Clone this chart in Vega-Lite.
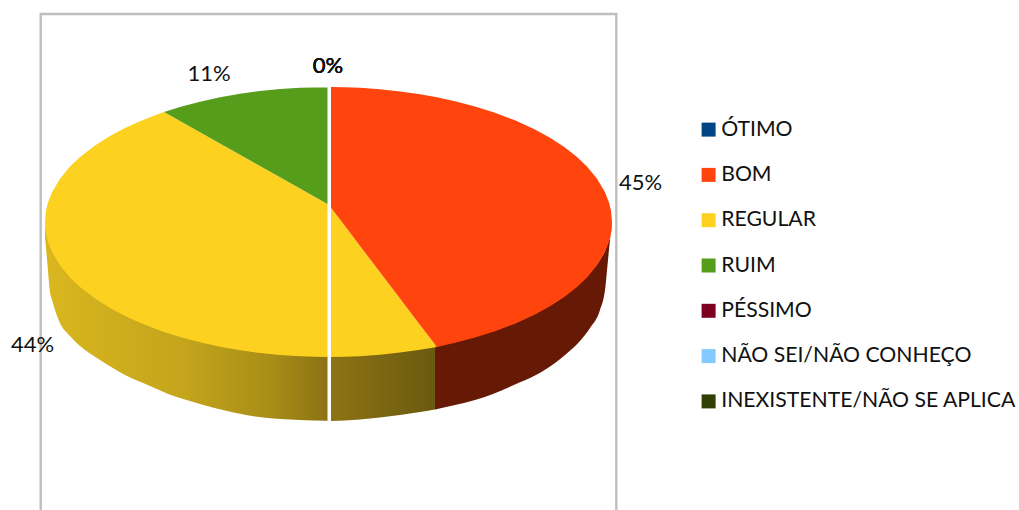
{"$schema":"https://vega.github.io/schema/vega-lite/v6.json","width":1019,"height":510,"padding":0,"autosize":{"type":"none"},"background":"#ffffff","view":{"stroke":null},
"config":{"axis":{"grid":false}},
"datasets":{
"frame":[{"seq":1,"x":40.7,"y":510},{"seq":2,"x":40.7,"y":14},{"seq":3,"x":616.3,"y":14},{"seq":4,"x":616.3,"y":510}],
"sideLeft":[{"x":45,"y":222,"y2":237},{"x":46,"y":232,"y2":248},{"x":47,"y":236,"y2":259},{"x":50,"y":245,"y2":292},{"x":52,"y":250,"y2":300},{"x":55,"y":256,"y2":310},{"x":60,"y":264,"y2":323},{"x":70,"y":276,"y2":336},{"x":80,"y":286,"y2":346},{"x":90,"y":293,"y2":353.5},{"x":100,"y":300,"y2":360},{"x":125,"y":315,"y2":375},{"x":150,"y":326,"y2":386},{"x":167,"y":332,"y2":393.5},{"x":185,"y":337,"y2":399.5},{"x":200,"y":341,"y2":404},{"x":225,"y":346,"y2":410.5},{"x":255,"y":351,"y2":416.5},{"x":280,"y":354,"y2":419},{"x":300,"y":355,"y2":420},{"x":327.5,"y":356,"y2":420.7}],
"sideRight":[{"x":331,"y":356,"y2":421},{"x":345,"y":355.8,"y2":420.5},{"x":360,"y":355.2,"y2":419.5},{"x":380,"y":353.8,"y2":417.5},{"x":400,"y":351.6,"y2":415},{"x":420,"y":348.8,"y2":412},{"x":436,"y":345.5,"y2":409.3}],
"sideRed":[{"x":435,"y":345,"y2":409.5},{"x":455,"y":342,"y2":405},{"x":475,"y":336.5,"y2":400},{"x":493,"y":331,"y2":394},{"x":515,"y":322.7,"y2":384.5},{"x":535,"y":313.5,"y2":375.5},{"x":547,"y":307,"y2":368.5},{"x":565,"y":295.4,"y2":355},{"x":580,"y":283,"y2":341},{"x":590,"y":273,"y2":328},{"x":600,"y":260,"y2":310},{"x":605,"y":251,"y2":290},{"x":608,"y":243,"y2":260},{"x":610,"y":237,"y2":240},{"x":612,"y":222,"y2":226}],
"faces":[
{"categoria":"REGULAR","parte":"a","x":45,"y":222,"y2":222},{"categoria":"REGULAR","parte":"a","x":46,"y":210.7,"y2":233.3},{"categoria":"REGULAR","parte":"a","x":48,"y":202.4,"y2":241.6},{"categoria":"REGULAR","parte":"a","x":52,"y":192.2,"y2":251.8},{"categoria":"REGULAR","parte":"a","x":60,"y":178.7,"y2":265.3},{"categoria":"REGULAR","parte":"a","x":70,"y":166.6,"y2":277.4},{"categoria":"REGULAR","parte":"a","x":80,"y":157,"y2":287},{"categoria":"REGULAR","parte":"a","x":95,"y":145.4,"y2":298.6},{"categoria":"REGULAR","parte":"a","x":110,"y":136,"y2":308},{"categoria":"REGULAR","parte":"a","x":125,"y":128,"y2":316},{"categoria":"REGULAR","parte":"a","x":140,"y":121.2,"y2":322.8},{"categoria":"REGULAR","parte":"a","x":152,"y":116.4,"y2":327.6},{"categoria":"REGULAR","parte":"a","x":164,"y":112,"y2":332},{"categoria":"REGULAR","parte":"a","x":180,"y":121,"y2":337},{"categoria":"REGULAR","parte":"a","x":200,"y":132.3,"y2":342.3},{"categoria":"REGULAR","parte":"a","x":220,"y":143.5,"y2":346.7},{"categoria":"REGULAR","parte":"a","x":240,"y":154.8,"y2":350.3},{"categoria":"REGULAR","parte":"a","x":260,"y":166,"y2":353},{"categoria":"REGULAR","parte":"a","x":280,"y":177.3,"y2":355},{"categoria":"REGULAR","parte":"a","x":300,"y":188.5,"y2":356.3},{"categoria":"REGULAR","parte":"a","x":315,"y":197,"y2":356.8},{"categoria":"REGULAR","parte":"a","x":327.5,"y":204,"y2":357},
{"categoria":"RUIM","parte":"b","x":164,"y":112,"y2":112},{"categoria":"RUIM","parte":"b","x":180,"y":107,"y2":121},{"categoria":"RUIM","parte":"b","x":200,"y":101.7,"y2":132.3},{"categoria":"RUIM","parte":"b","x":220,"y":97.3,"y2":143.5},{"categoria":"RUIM","parte":"b","x":240,"y":93.7,"y2":154.8},{"categoria":"RUIM","parte":"b","x":260,"y":91,"y2":166},{"categoria":"RUIM","parte":"b","x":280,"y":89,"y2":177.3},{"categoria":"RUIM","parte":"b","x":300,"y":87.7,"y2":188.5},{"categoria":"RUIM","parte":"b","x":315,"y":87.4,"y2":197},{"categoria":"RUIM","parte":"b","x":327.5,"y":87.5,"y2":204},
{"categoria":"REGULAR","parte":"c","x":331,"y":207.7,"y2":357},{"categoria":"REGULAR","parte":"c","x":345,"y":226.1,"y2":356.8},{"categoria":"REGULAR","parte":"c","x":360,"y":245.9,"y2":356.2},{"categoria":"REGULAR","parte":"c","x":380,"y":272.2,"y2":354.8},{"categoria":"REGULAR","parte":"c","x":400,"y":298.6,"y2":352.6},{"categoria":"REGULAR","parte":"c","x":420,"y":324.9,"y2":349.8},{"categoria":"REGULAR","parte":"c","x":437,"y":347,"y2":347},
{"categoria":"BOM","parte":"d","x":331,"y":87,"y2":207.7},{"categoria":"BOM","parte":"d","x":345,"y":87.2,"y2":226.1},{"categoria":"BOM","parte":"d","x":360,"y":87.8,"y2":245.9},{"categoria":"BOM","parte":"d","x":380,"y":89.2,"y2":272.2},{"categoria":"BOM","parte":"d","x":400,"y":91.4,"y2":298.6},{"categoria":"BOM","parte":"d","x":420,"y":94.2,"y2":324.9},{"categoria":"BOM","parte":"d","x":437,"y":97.3,"y2":347},{"categoria":"BOM","parte":"d","x":455,"y":101.2,"y2":342.8},{"categoria":"BOM","parte":"d","x":475,"y":106.4,"y2":337.6},{"categoria":"BOM","parte":"d","x":495,"y":112.7,"y2":331.3},{"categoria":"BOM","parte":"d","x":515,"y":120.3,"y2":323.7},{"categoria":"BOM","parte":"d","x":535,"y":129.5,"y2":314.5},{"categoria":"BOM","parte":"d","x":550,"y":137.7,"y2":306.3},{"categoria":"BOM","parte":"d","x":565,"y":147.6,"y2":296.4},{"categoria":"BOM","parte":"d","x":577,"y":157,"y2":287},{"categoria":"BOM","parte":"d","x":587,"y":166.6,"y2":277.4},{"categoria":"BOM","parte":"d","x":597,"y":178.7,"y2":265.3},{"categoria":"BOM","parte":"d","x":605,"y":192.2,"y2":251.8},{"categoria":"BOM","parte":"d","x":609,"y":202.4,"y2":241.6},{"categoria":"BOM","parte":"d","x":611,"y":210.7,"y2":233.3},{"categoria":"BOM","parte":"d","x":612,"y":222,"y2":222}],
"labels":[{"categoria":"ÓTIMO","rotulo":"0%","x":328,"y":66},{"categoria":"BOM","rotulo":"45%","x":640.5,"y":183},{"categoria":"REGULAR","rotulo":"44%","x":32.5,"y":345},{"categoria":"RUIM","rotulo":"11%","x":209,"y":74},{"categoria":"PÉSSIMO","rotulo":"0%","x":328,"y":66},{"categoria":"NÃO SEI/NÃO CONHEÇO","rotulo":"0%","x":328,"y":66},{"categoria":"INEXISTENTE/NÃO SE APLICA","rotulo":"0%","x":328,"y":66}]
},
"encoding":{
"x":{"field":"x","type":"quantitative","scale":{"domain":[0,1019],"nice":false,"zero":false},"axis":null},
"y":{"field":"y","type":"quantitative","scale":{"domain":[0,510],"nice":false,"zero":false,"reverse":true},"axis":null}
},
"layer":[
{"data":{"name":"frame"},"mark":{"type":"line","color":"#bfbfbf","strokeWidth":2.4},"encoding":{"order":{"field":"seq","type":"quantitative"}}},
{"data":{"name":"sideLeft"},"mark":{"type":"area","interpolate":"monotone","color":{"x1":0,"y1":0,"x2":1,"y2":0,"gradient":"linear","stops":[{"offset":0,"color":"#dab71f"},{"offset":0.5,"color":"#c3a41b"},{"offset":0.8,"color":"#a88d17"},{"offset":1,"color":"#8c7213"}]}},"encoding":{"y2":{"field":"y2"}}},
{"data":{"name":"sideRight"},"mark":{"type":"area","interpolate":"monotone","color":{"x1":0,"y1":0,"x2":1,"y2":0,"gradient":"linear","stops":[{"offset":0,"color":"#8d7314"},{"offset":1,"color":"#6a590f"}]}},"encoding":{"y2":{"field":"y2"}}},
{"data":{"name":"sideRed"},"mark":{"type":"area","interpolate":"monotone","color":"#661a05"},"encoding":{"y2":{"field":"y2"}}},
{"data":{"name":"faces"},"mark":{"type":"area"},"encoding":{"y2":{"field":"y2"},"detail":{"field":"parte"},
"color":{"field":"categoria","type":"nominal","sort":null,"scale":{"domain":["ÓTIMO","BOM","REGULAR","RUIM","PÉSSIMO","NÃO SEI/NÃO CONHEÇO","INEXISTENTE/NÃO SE APLICA"],"range":["#004586","#ff440e","#fdd11f","#579d1c","#7e0021","#83caff","#314004"]},
"legend":{"title":null,"orient":"none","legendX":698,"legendY":119,"symbolType":"square","symbolSize":196,"symbolStrokeWidth":0,"labelFont":"Lato","labelFontSize":21.2,"labelColor":"#111111","labelOffset":2,"rowPadding":23.3,"labelLimit":400}}}},
{"data":{"name":"labels"},"mark":{"type":"text","font":"Lato","fontSize":22,"color":"#111111","align":"center","baseline":"middle"},"encoding":{"text":{"field":"rotulo"}}}
]}
